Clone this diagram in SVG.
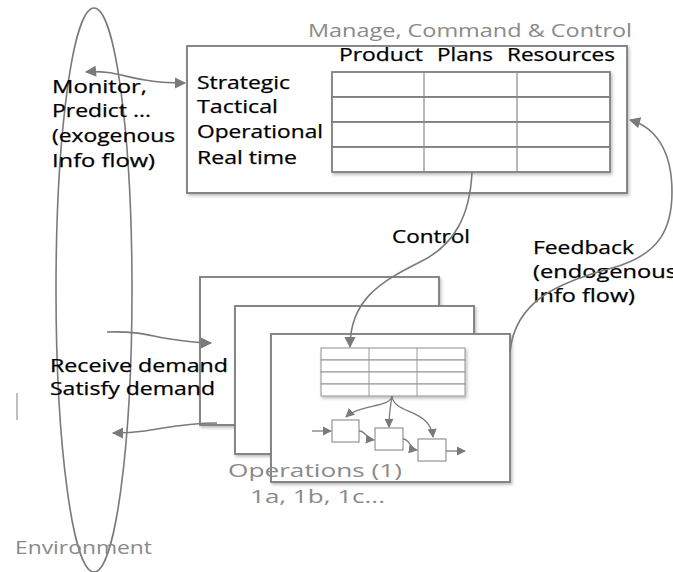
<svg xmlns="http://www.w3.org/2000/svg" width="673" height="572" viewBox="0 0 673 572">
  <style>
    .box { fill: #ffffff; stroke: #7a7a7a; stroke-width: 1.8; }
    .cell { fill: #ffffff; stroke: #7f7f7f; stroke-width: 1.8; }
    .cellsm { fill: #ffffff; stroke: #9a9a9a; stroke-width: 1.1; }
    .sbox { fill: #ffffff; stroke: #8a8a8a; stroke-width: 1.1; }
    .wire { fill: none; stroke: #7a7a7a; stroke-width: 1.6; }
    .wiresm { fill: none; stroke: #7a7a7a; stroke-width: 1.3; }
    .lbl { font-family: "Open Sans", "DejaVu Sans", sans-serif; font-size: 18px; fill: #000000; stroke: #000000; stroke-width: 0.25; }
    .glbl { font-family: "Open Sans", "DejaVu Sans", sans-serif; font-size: 18px; fill: #8a8a8a; }
  </style>
  <defs>
    <filter id="shadow" x="-10%" y="-10%" width="125%" height="125%">
      <feDropShadow dx="1.5" dy="2" stdDeviation="1.5" flood-color="#000000" flood-opacity="0.25"/>
    </filter>
    <marker id="arrow" viewBox="0 0 10 10" refX="9" refY="5" markerWidth="7.5" markerHeight="7" markerUnits="strokeWidth" orient="auto-start-reverse">
      <path d="M0,0 L10,5 L0,10 z" fill="#7a7a7a"/>
    </marker>
    <marker id="arrowsm" viewBox="0 0 10 10" refX="9" refY="5" markerWidth="7" markerHeight="7" markerUnits="strokeWidth" orient="auto-start-reverse">
      <path d="M0,0 L10,5 L0,10 z" fill="#7a7a7a"/>
    </marker>
  </defs>

  <!-- Environment boundary -->
  <g id="environment">
    <ellipse cx="94" cy="290" rx="38" ry="282" fill="none" stroke="#7a7a7a" stroke-width="1.6"/>
    <line x1="17" y1="393" x2="17" y2="420" stroke="#b0b0b0" stroke-width="2" opacity="0.8"/>
    <text class="glbl" x="15" y="554" textLength="137" lengthAdjust="spacingAndGlyphs" fill="#80889a">Environment</text>
  </g>

  <!-- Manage, Command & Control -->
  <g id="mcc">
    <text class="glbl" x="308" y="37" textLength="324" lengthAdjust="spacingAndGlyphs">Manage, Command &amp; Control</text>
    <rect class="box" x="187" y="46" width="440" height="147" filter="url(#shadow)"/>
    <text class="lbl" x="339" y="61" textLength="84" lengthAdjust="spacingAndGlyphs">Product</text>
    <text class="lbl" x="437" y="61" textLength="56" lengthAdjust="spacingAndGlyphs">Plans</text>
    <text class="lbl" x="507" y="61" textLength="108" lengthAdjust="spacingAndGlyphs">Resources</text>
    <text class="lbl" x="197" y="89" textLength="93" lengthAdjust="spacingAndGlyphs">Strategic</text>
    <text class="lbl" x="197" y="113" textLength="81" lengthAdjust="spacingAndGlyphs">Tactical</text>
    <text class="lbl" x="197" y="138" textLength="126" lengthAdjust="spacingAndGlyphs">Operational</text>
    <text class="lbl" x="197" y="164" textLength="100" lengthAdjust="spacingAndGlyphs">Real time</text>
    <g filter="url(#shadow)">
      <rect class="cell" x="332" y="72" width="278" height="25"/>
      <rect class="cell" x="332" y="97" width="278" height="25"/>
      <rect class="cell" x="332" y="122" width="278" height="25"/>
      <rect class="cell" x="332" y="147" width="278" height="25"/>
    </g>
    <line x1="424" y1="72" x2="424" y2="172" stroke="#8a8a8a" stroke-width="1.2"/>
    <line x1="517" y1="72" x2="517" y2="172" stroke="#8a8a8a" stroke-width="1.2"/>
  </g>

  <!-- Operations stack -->
  <g id="operations">
    <rect class="box" x="200" y="277" width="239" height="148" filter="url(#shadow)"/>
    <rect class="box" x="235" y="306" width="239" height="148" filter="url(#shadow)"/>
    <rect class="box" x="271" y="334" width="239" height="148" filter="url(#shadow)"/>
    <g filter="url(#shadow)">
      <rect class="cellsm" x="321" y="348" width="144" height="12"/>
      <rect class="cellsm" x="321" y="360" width="144" height="12"/>
      <rect class="cellsm" x="321" y="372" width="144" height="12"/>
      <rect class="cellsm" x="321" y="384" width="144" height="12"/>
    </g>
    <line x1="369" y1="348" x2="369" y2="396" stroke="#9a9a9a" stroke-width="1"/>
    <line x1="417" y1="348" x2="417" y2="396" stroke="#9a9a9a" stroke-width="1"/>
    <rect class="sbox" x="332" y="420" width="27" height="22"/>
    <rect class="sbox" x="375" y="428" width="28" height="22"/>
    <rect class="sbox" x="418" y="439" width="28" height="22"/>
    <text class="glbl" x="228" y="477" textLength="174" lengthAdjust="spacingAndGlyphs">Operations (1)</text>
    <text class="glbl" x="250" y="503" textLength="135" lengthAdjust="spacingAndGlyphs">1a, 1b, 1c...</text>
  </g>

  <!-- Free labels -->
  <g id="labels">
    <text class="lbl" x="52" y="93" textLength="95" lengthAdjust="spacingAndGlyphs">Monitor,</text>
    <text class="lbl" x="52" y="117" textLength="99" lengthAdjust="spacingAndGlyphs">Predict ...</text>
    <text class="lbl" x="52" y="142" textLength="123" lengthAdjust="spacingAndGlyphs">(exogenous</text>
    <text class="lbl" x="52" y="167" textLength="103" lengthAdjust="spacingAndGlyphs">Info flow)</text>
    <text class="lbl" x="50" y="372" textLength="178" lengthAdjust="spacingAndGlyphs">Receive demand</text>
    <text class="lbl" x="50" y="395" textLength="165" lengthAdjust="spacingAndGlyphs">Satisfy demand</text>
    <text class="lbl" x="392" y="243" textLength="78" lengthAdjust="spacingAndGlyphs">Control</text>
    <text class="lbl" x="533" y="254" textLength="101" lengthAdjust="spacingAndGlyphs">Feedback</text>
    <text class="lbl" x="533" y="278" textLength="144" lengthAdjust="spacingAndGlyphs">(endogenous</text>
    <text class="lbl" x="533" y="302" textLength="102" lengthAdjust="spacingAndGlyphs">Info flow)</text>
  </g>

  <!-- Connectors -->
  <g id="connectors">
    <path class="wire" d="M86,72 C110,70 125,77 145,80 C160,83 172,83 185,83" marker-start="url(#arrow)" marker-end="url(#arrow)"/>
    <path class="wire" d="M472,172 C470,215 455,245 420,262 C380,282 350,300 350,347" marker-end="url(#arrow)"/>
    <path class="wire" d="M510,352 C515,300 560,282 612,268 C660,255 672,228 672,192 C672,150 655,127 630,120" marker-end="url(#arrow)"/>
    <path class="wire" d="M107,332 C140,331 150,336 170,339 C190,342 200,343 211,343" marker-end="url(#arrow)"/>
    <path class="wire" d="M217,423 C185,423 165,428 145,431 C130,433 122,433 113,433" marker-end="url(#arrow)"/>
    <path class="wiresm" d="M312,431 L331,431" marker-end="url(#arrowsm)"/>
    <path class="wiresm" d="M359,431 C366,431 366,439 374,440" marker-end="url(#arrowsm)"/>
    <path class="wiresm" d="M403,439 C410,439 410,449 417,450" marker-end="url(#arrowsm)"/>
    <path class="wiresm" d="M446,451 L465,451" marker-end="url(#arrowsm)"/>
    <path class="wiresm" d="M392,396 C390,408 360,404 346,417" marker-end="url(#arrowsm)"/>
    <path class="wiresm" d="M392,396 C390,408 389,415 389,427" marker-end="url(#arrowsm)"/>
    <path class="wiresm" d="M392,396 C394,415 430,408 433,437" marker-end="url(#arrowsm)"/>
  </g>
</svg>
